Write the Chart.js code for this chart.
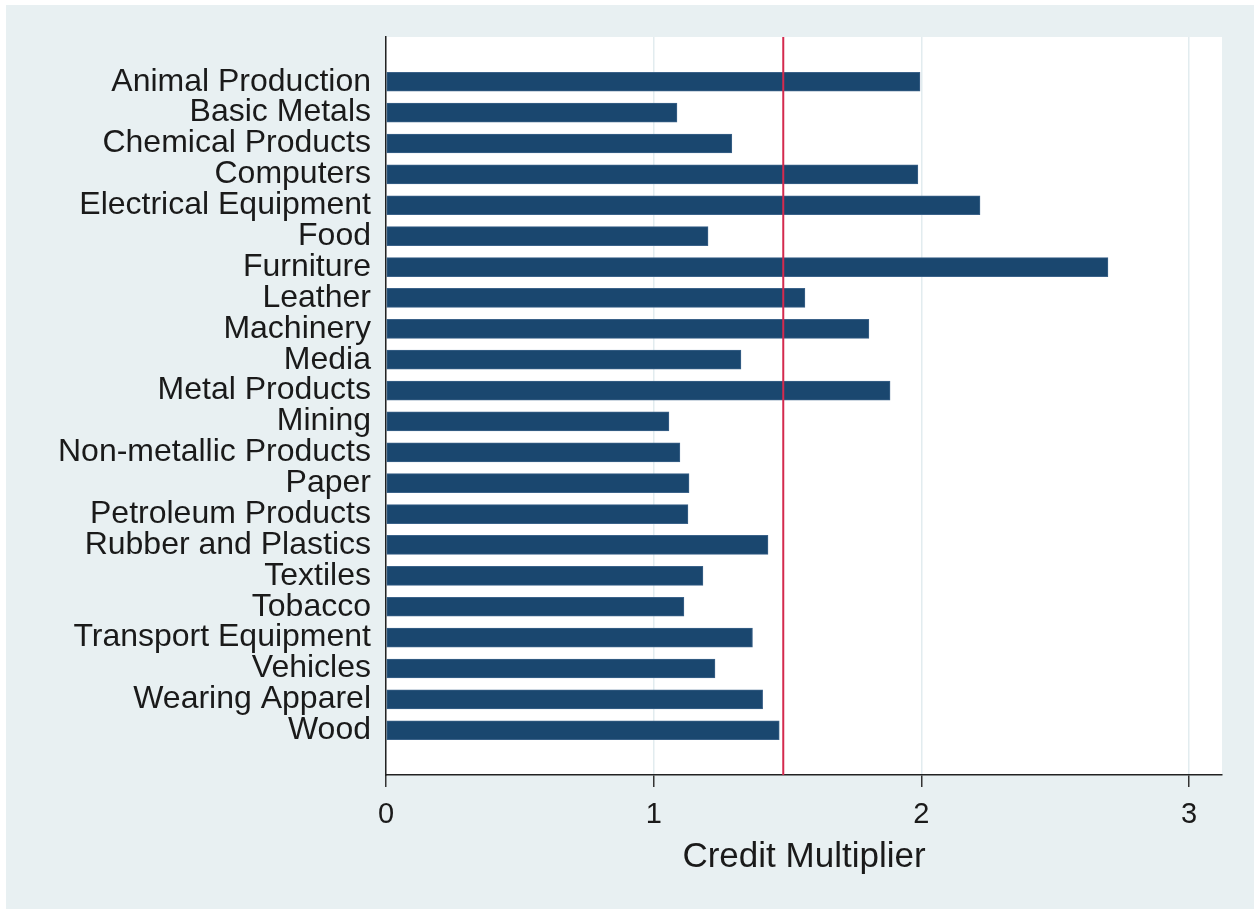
<!DOCTYPE html>
<html>
<head>
<meta charset="utf-8">
<script src="https://cdn.jsdelivr.net/npm/chart.js@4"></script>
<style>
html,body{margin:0;padding:0;background:#fff;}
#wrap{position:absolute;left:0;top:0;width:1254px;height:909px;}
</style>
</head>
<body>
<div id="wrap"><canvas id="c" width="1254" height="909"></canvas></div>
<script>
const categories = ["Animal Production","Basic Metals","Chemical Products","Computers","Electrical Equipment","Food","Furniture","Leather","Machinery","Media","Metal Products","Mining","Non-metallic Products","Paper","Petroleum Products","Rubber and Plastics","Textiles","Tobacco","Transport Equipment","Vehicles","Wearing Apparel","Wood"];
const multiplier = [1.995,1.087,1.292,1.987,2.219,1.203,2.697,1.565,1.804,1.326,1.883,1.057,1.098,1.132,1.128,1.427,1.184,1.113,1.369,1.229,1.407,1.469];
const referenceValue = 1.484;
const xTicks = [0,1,2,3];
const xTitle = "Credit Multiplier";

const FONT = "'Liberation Sans', Arial, sans-serif";

const bgPlugin = {
  id: 'bg',
  beforeDraw(chart) {
    const ctx = chart.ctx, a = chart.chartArea;
    ctx.save();
    ctx.fillStyle = '#ffffff';
    ctx.fillRect(0,0,chart.width,chart.height);
    ctx.fillStyle = '#E8F0F2';
    ctx.fillRect(6,5,chart.width-6,chart.height-5);
    ctx.fillStyle = '#ffffff';
    ctx.fillRect(a.left,a.top,a.right-a.left,a.bottom-a.top);
    ctx.restore();
  }
};
const refLine = {
  id: 'refLine',
  afterDatasetsDraw(chart) {
    const ctx = chart.ctx, a = chart.chartArea;
    const x = chart.scales.x.getPixelForValue(referenceValue);
    ctx.save();
    ctx.strokeStyle = '#D42A4E';
    ctx.lineWidth = 2;
    ctx.beginPath();
    ctx.moveTo(x, a.top);
    ctx.lineTo(x, a.bottom);
    ctx.stroke();
    ctx.restore();
  }
};

new Chart(document.getElementById('c'), {
  type: 'bar',
  data: {
    datasets: [{
      data: multiplier.map((v,i)=>({x:v, y:i})),
      backgroundColor: '#1A476F',
      borderColor: '#3B6289',
      borderWidth: 1,
      borderSkipped: false,
      barThickness: 19
    }]
  },
  options: {
    indexAxis: 'y',
    responsive: false,
    animation: false,
    layout: { padding: { top: 37, right: 32, left: 0, bottom: 0 } },
    plugins: { legend: {display:false}, tooltip: {enabled:false} },
    scales: {
      x: {
        type: 'linear',
        min: 0, max: 3.123,
        afterBuildTicks(s){ s.ticks = xTicks.map(v=>({value:v})); },
        afterFit(s){ s.height = 909 - 775; },
        grid: { color: '#E2ECEF', lineWidth: 1.5, tickColor: '#333', tickLength: 12, drawOnChartArea: true },
        border: { color: '#222', width: 1.5 },
        ticks: { color: '#1a1a1a', font: { family: FONT, size: 29 }, padding: 11, callback: v=>String(v), maxRotation:0 },
        title: { display: true, text: xTitle, color: '#1a1a1a', font: { family: FONT, size: 35 }, padding: { top: 0, bottom: 31 } }
      },
      y: {
        type: 'linear',
        reverse: true,
        offset: false,
        min: -1.45, max: 22.45,
        afterBuildTicks(s){ s.ticks = categories.map((c,i)=>({value:i})); },
        afterFit(s){ s.width = 386; },
        grid: { display: false, drawTicks: false },
        border: { color: '#222', width: 1.5 },
        ticks: { color: '#1a1a1a', font: { family: FONT, size: 32 }, padding: 15, autoSkip: false, callback: v=>categories[v] }
      }
    }
  },
  plugins: [bgPlugin, refLine]
});
</script>
</body>
</html>
